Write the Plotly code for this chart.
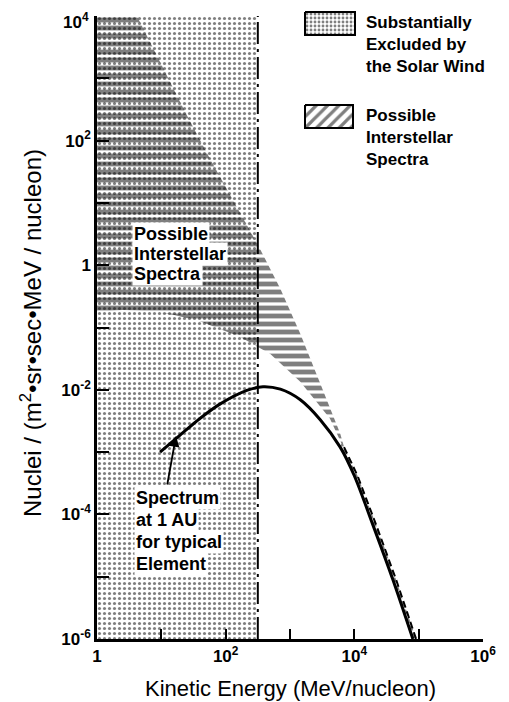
import numpy as np
import plotly.graph_objects as go

# values (log10 of energy in MeV/nucleon, log10 of flux)
cutoff_energy = 316  # dash-dot line, solar wind cut-off

upper_log_e = [0.0, 0.62, 0.98, 1.37, 1.76, 2.15, 2.52, 2.85, 3.16, 3.47, 3.78]
upper_log_n = [4.0, 4.0, 3.26, 2.46, 1.70, 0.98, 0.29, -0.38, -1.10, -1.90, -2.70]

dashed_log_e = [3.84, 4.05, 4.35, 4.65, 4.96]
dashed_log_n = [-2.92, -3.38, -4.20, -5.05, -6.0]

lower_log_e = [0.0, 0.4, 0.82, 1.2, 1.6, 2.22, 2.69, 3.16, 3.62, 3.8]
lower_log_n = [-0.75, -0.72, -0.74, -0.80, -0.90, -1.15, -1.42, -1.87, -2.46, -2.86]

au_log_e = [0.98, 1.3, 1.6, 1.91, 2.33, 2.58, 2.85, 3.16, 3.47, 3.78, 4.0, 4.3, 4.6, 4.91]
au_log_n = [-3.0, -2.72, -2.46, -2.23, -2.01, -1.95, -1.99, -2.16, -2.48, -2.92, -3.38, -4.2, -5.05, -6.0]

x_ticks = [1, 10, 1e2, 1e3, 1e4, 1e5, 1e6]
x_labels = ["1", "", "10<sup>2</sup>", "", "10<sup>4</sup>", "", "10<sup>6</sup>"]
y_ticks = [1e-6, 1e-5, 1e-4, 1e-3, 1e-2, 1e-1, 1, 10, 1e2, 1e3, 1e4]
y_labels = ["10<sup>-6</sup>", "", "10<sup>-4</sup>", "", "10<sup>-2</sup>", "", "1", "",
            "10<sup>2</sup>", "", ""]
top_label = "10<sup>4</sup>"  # drawn separately, nudged down so it is not clipped

interstellar_lines = ["Possible", "Interstellar", "Spectra"]
au_lines = ["Spectrum", "at 1 AU", "for typical", "Element"]

p = lambda a: np.power(10.0, a)
FONT = "Liberation Sans, Arial, sans-serif"

# the page body adds 8px around the figure, so the figure is drawn 8px smaller
W, H, PAD = 509, 702, 8
PLOT_L, PLOT_R, PLOT_T, PLOT_B = 97, 483, 16, 639   # plot box in page pixels


def px_y(yp):  # page pixel row -> log10 flux
    return 4 - (yp - PLOT_T) * 10 / (PLOT_B - PLOT_T)


def px_x(xp):  # page pixel column -> log10 energy
    return (xp - PLOT_L) * 6 / (PLOT_R - PLOT_L)


def paper_x(xp):
    return (xp - PLOT_L) / (PLOT_R - PLOT_L)


def paper_y(yp):
    return (PLOT_B - yp) / (PLOT_B - PAD)


fig = go.Figure()

# stippled region: excluded by solar wind
fig.add_trace(go.Scatter(
    x=[1, cutoff_energy, cutoff_energy, 1, 1], y=[1e-6, 1e-6, 1e4, 1e4, 1e-6],
    fill="toself", fillcolor="rgba(0,0,0,0)", mode="lines", line=dict(width=0),
    fillpattern=dict(shape=".", size=5, solidity=0.3, fgcolor="black"),
    hoverinfo="skip", showlegend=False))

# hatched region: possible interstellar spectra
hx = upper_log_e + dashed_log_e + au_log_e[::-1][:5] + lower_log_e[::-1]
hy = upper_log_n + dashed_log_n + au_log_n[::-1][:5] + lower_log_n[::-1]
fig.add_trace(go.Scatter(
    x=p(hx), y=p(hy), fill="toself", fillcolor="rgba(0,0,0,0)",
    mode="lines", line=dict(width=0),
    fillpattern=dict(shape="-", size=8, solidity=0.6, fgcolor="black"),
    hoverinfo="skip", showlegend=False))

# spectrum at 1 AU
fig.add_trace(go.Scatter(x=p(au_log_e), y=p(au_log_n), mode="lines",
                         line=dict(color="black", width=3, shape="spline", smoothing=0.8),
                         showlegend=False))
fig.add_trace(go.Scatter(x=p(dashed_log_e), y=p(dashed_log_n), mode="lines",
                         line=dict(color="black", width=2, dash="7px,4px"),
                         showlegend=False))
fig.add_trace(go.Scatter(x=[cutoff_energy, cutoff_energy], y=[1e-6, 1e4], mode="lines",
                         line=dict(color="black", width=2, dash="22px,5px,3px,5px"),
                         showlegend=False))

# legend boxes drawn in a page-pixel frame
fig.add_trace(go.Scatter(x=[305, 355, 355, 305, 305], y=[12, 12, 35, 35, 12],
                         xaxis="x2", yaxis="y2", fill="toself", fillcolor="white",
                         mode="lines", line=dict(color="black", width=2),
                         fillpattern=dict(shape=".", size=4, solidity=0.4, fgcolor="black"),
                         showlegend=False))
fig.add_trace(go.Scatter(x=[305, 353, 353, 305, 305], y=[105, 105, 128, 128, 105],
                         xaxis="x2", yaxis="y2", fill="toself", fillcolor="white",
                         mode="lines", line=dict(color="black", width=2),
                         fillpattern=dict(shape="/", size=8, solidity=0.4, fgcolor="black"),
                         showlegend=False))

ann_font = dict(family=FONT, size=17, color="black", weight="bold")
fig.add_annotation(xref="x2", yref="y2", x=364, y=11, xanchor="left", yanchor="top",
                   text="Substantially<br>Excluded by<br>the Solar Wind",
                   align="left", showarrow=False, font=ann_font)
fig.add_annotation(xref="x2", yref="y2", x=364, y=104, xanchor="left", yanchor="top",
                   text="Possible<br>Interstellar<br>Spectra",
                   align="left", showarrow=False, font=ann_font)

in_font = dict(family=FONT, size=18, color="black", weight="bold")
for i, t in enumerate(interstellar_lines):
    fig.add_annotation(x=px_x(132), y=px_y(234 + 20 * i), xanchor="left", yanchor="middle",
                       text=t, showarrow=False, bgcolor="white", borderpad=1, font=in_font)
for i, t in enumerate(au_lines):
    fig.add_annotation(x=px_x(134), y=px_y(498 + 22 * i), xanchor="left", yanchor="middle",
                       text=t, showarrow=False, bgcolor="white", borderpad=1, font=in_font)
fig.add_annotation(x=px_x(176), y=px_y(436), ax=-9, ay=50, text="", showarrow=True,
                   arrowhead=2, arrowsize=1.2, arrowwidth=1.8, arrowcolor="black")

tick_font = dict(family=FONT, size=17, color="black", weight="bold")
fig.add_annotation(xref="paper", yref="paper", x=paper_x(91), y=paper_y(PLOT_T + 5),
                   xanchor="right", yanchor="middle", text=top_label,
                   showarrow=False, font=tick_font)

# axis titles
fig.add_annotation(xref="paper", yref="paper", x=paper_x(290), y=paper_y(688),
                   text="Kinetic Energy (MeV/nucleon)", showarrow=False,
                   xanchor="center", yanchor="middle",
                   font=dict(family=FONT, size=22, color="black"))
fig.add_annotation(xref="paper", yref="paper", x=paper_x(31), y=paper_y(333),
                   text="Nuclei / (m<sup>2</sup>•sr•sec•MeV / nucleon)", showarrow=False,
                   textangle=-90, xanchor="center", yanchor="middle",
                   font=dict(family=FONT, size=24, color="black"))

fig.update_layout(
    width=W - PAD, height=H - PAD,
    margin=dict(l=PLOT_L - PAD, r=W - PLOT_R, t=0, b=H - PLOT_B, autoexpand=False),
    paper_bgcolor="white", plot_bgcolor="rgba(0,0,0,0)",
    xaxis=dict(type="log", range=[0, 6], domain=[0, 1], anchor="y", automargin=False,
               tickvals=x_ticks, ticktext=x_labels, ticks="inside", ticklen=10,
               tickwidth=2, tickcolor="black", showline=True, linewidth=2.5,
               linecolor="black", showgrid=False, zeroline=False,
               ticklabeloverflow="allow", tickfont=tick_font),
    yaxis=dict(type="log", range=[-6, 4], anchor="x", automargin=False,
               domain=[0, (PLOT_B - PLOT_T) / (PLOT_B - PAD)],
               tickvals=y_ticks, ticktext=y_labels, ticks="inside", ticklen=12,
               tickwidth=2, tickcolor="black", showline=True, linewidth=2.5,
               linecolor="black", showgrid=False, zeroline=False,
               ticklabeloverflow="allow", tickfont=tick_font),
    xaxis2=dict(range=[PLOT_L, PLOT_R], domain=[0, 1], anchor="y2", visible=False),
    yaxis2=dict(range=[PLOT_B, PAD], domain=[0, 1], anchor="x2", visible=False),
)

fig.write_html("out.html")
